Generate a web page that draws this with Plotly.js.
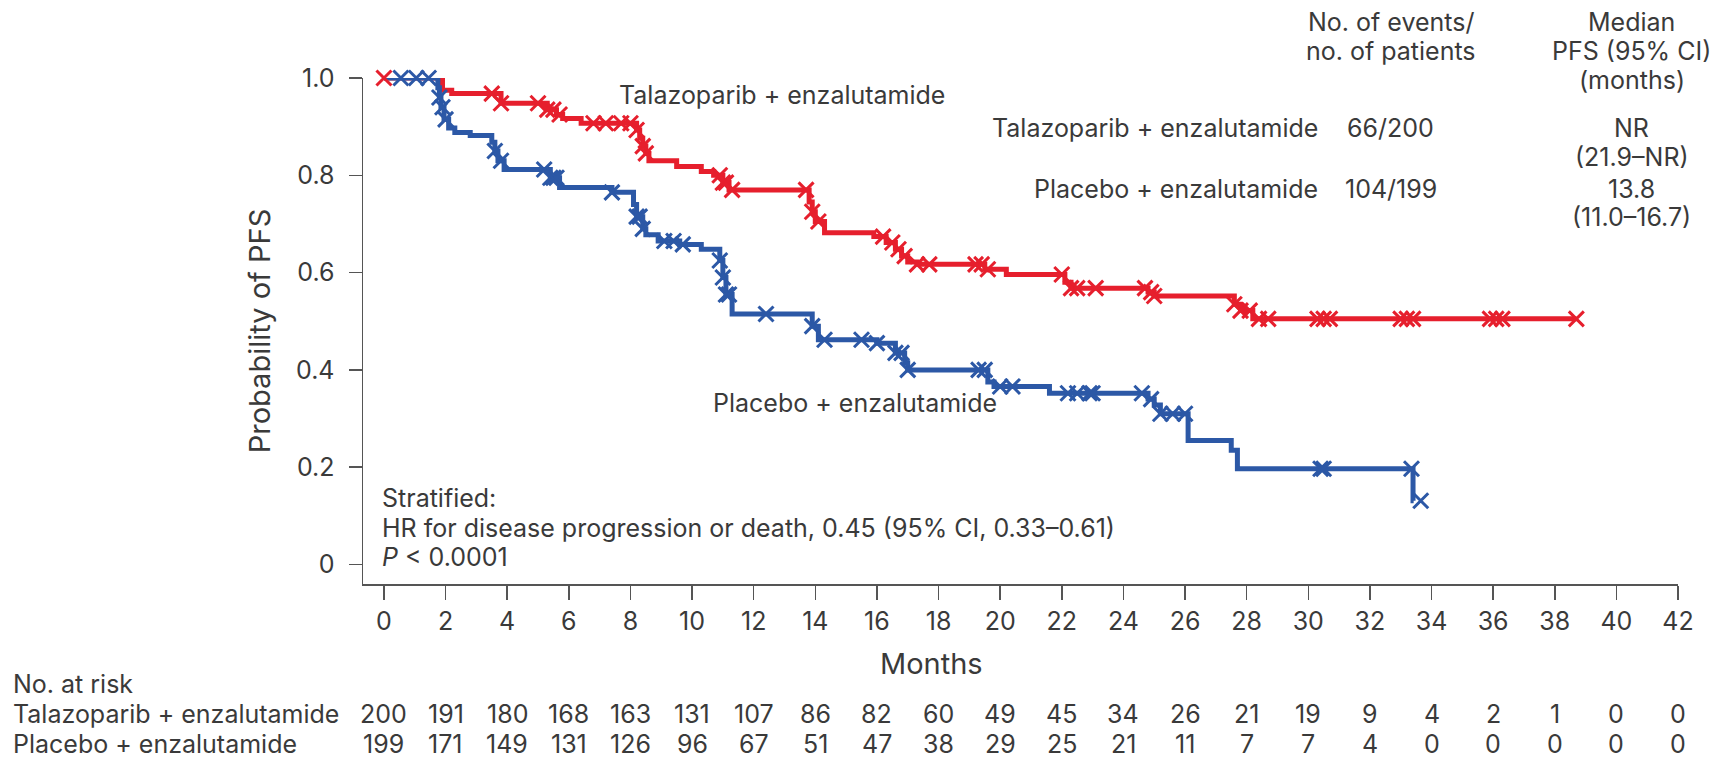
<!DOCTYPE html>
<html>
<head>
<meta charset="utf-8">
<script src="https://cdn.plot.ly/plotly-3.0.1.min.js"></script>
<style>
  html, body { margin: 0; padding: 0; background: #fff; }
  #chart { width: 1717px; height: 777px; }
</style>
</head>
<body>
<div id="chart"></div>
<script>
// ---------- Data ----------
// Talazoparib + enzalutamide: Kaplan–Meier step points (months, probability)
const talaTimes = [0, 1.9, 2.2, 3.8, 5.3, 5.6, 5.8, 6.4, 8.2, 8.3, 8.4, 8.5, 8.6, 9.5, 10.3, 10.7, 11.0, 11.2,
  13.8, 13.9, 14.0, 14.3, 15.9, 16.3, 16.6, 16.8, 17.0, 17.3, 19.5, 20.2, 22.1, 22.3, 24.8, 25.0, 27.6, 27.8, 28.2];
const talaSurv = [1.0, 0.975, 0.968, 0.948, 0.935, 0.925, 0.917, 0.907, 0.893, 0.876, 0.860, 0.845, 0.830, 0.818, 0.808, 0.800, 0.785, 0.770,
  0.745, 0.725, 0.705, 0.682, 0.674, 0.662, 0.648, 0.634, 0.622, 0.617, 0.607, 0.596, 0.580, 0.568, 0.560, 0.552, 0.535, 0.522, 0.505];
const talaEnd = 38.7;
const talaCensored = [0, 3.5, 3.8, 5.0, 5.3, 5.5, 5.7, 6.8, 7.2, 7.7, 8.0, 8.2, 8.4, 8.5, 10.9, 11.0, 11.1, 11.3,
  13.7, 13.9, 14.1, 16.2, 16.5, 16.7, 16.9, 17.3, 17.7, 19.2, 19.4, 19.6, 22.0, 22.3, 22.5, 23.1, 24.7, 24.9, 25.0,
  27.6, 27.8, 28.1, 28.4, 28.7, 30.3, 30.5, 30.7, 33.0, 33.2, 33.4, 35.9, 36.1, 36.3, 38.7];

// Placebo + enzalutamide
const placTimes = [0, 1.75, 1.8, 1.85, 1.95, 2.1, 2.3, 2.8, 3.5, 3.6, 3.7, 3.9, 5.4, 5.7, 7.4, 8.1, 8.2, 8.4, 8.5, 8.9, 9.6,
  10.3, 10.9, 11.0, 11.1, 11.3, 13.9, 14.1, 16.0, 16.6, 16.9, 17.0, 19.6, 19.8, 21.6, 24.8, 25.0, 25.2, 26.1, 27.5, 27.7, 33.4];
const placSurv = [1.0, 0.98, 0.96, 0.94, 0.915, 0.897, 0.888, 0.882, 0.868, 0.850, 0.830, 0.812, 0.795, 0.775, 0.765, 0.740, 0.715, 0.690, 0.678, 0.665, 0.658,
  0.648, 0.625, 0.590, 0.555, 0.515, 0.490, 0.462, 0.455, 0.435, 0.415, 0.400, 0.375, 0.366, 0.352, 0.340, 0.328, 0.310, 0.255, 0.235, 0.197, 0.131];
const placEnd = 33.42;
const placCensored = [0.55, 1.05, 1.45, 1.8, 1.9, 2.0, 3.6, 3.8, 5.2, 5.4, 5.5, 5.6, 7.4, 8.2, 8.3, 8.4, 9.1, 9.4, 9.7,
  10.9, 11.0, 11.1, 11.2, 12.4, 13.9, 14.3, 15.5, 16.0, 16.6, 16.8, 17.0, 19.3, 19.5, 20.0, 20.4, 22.2, 22.5, 22.9, 23.0,
  24.6, 24.9, 25.2, 25.6, 26.0, 30.4, 30.5, 33.35, 33.65];

// Number at risk
const riskMonths = [0, 2, 4, 6, 8, 10, 12, 14, 16, 18, 20, 22, 24, 26, 28, 30, 32, 34, 36, 38, 40, 42];
const riskTala = [200, 191, 180, 168, 163, 131, 107, 86, 82, 60, 49, 45, 34, 26, 21, 19, 9, 4, 2, 1, 0, 0];
const riskPlac = [199, 171, 149, 131, 126, 96, 67, 51, 47, 38, 29, 25, 21, 11, 7, 7, 4, 0, 0, 0, 0, 0];

const xTicks = riskMonths;
const yTicks = [0, 0.2, 0.4, 0.6, 0.8, 1.0];
const yTickText = ['0', '0.2', '0.4', '0.6', '0.8', '1.0'];

const armNames = ['Talazoparib + enzalutamide', 'Placebo + enzalutamide'];
const events = ['66/200', '104/199'];
const medians = ['NR', '13.8'];
const medianCI = ['(21.9–NR)', '(11.0–16.7)'];

// ---------- Styling ----------
const RED = '#e61f2d';
const BLUE = '#2c58a6';
const TXT = '#3a3a3a';
const AXC = '#555555';
const FONT = 'Inter, Roboto, "Liberation Sans", sans-serif';
const FS = 25;

function stepValue(times, surv, t) {
  let v = surv[0];
  for (let i = 0; i < times.length; i++) { if (times[i] <= t) v = surv[i]; }
  return v;
}
function withEnd(times, surv, end) {
  return { x: times.concat([end]), y: surv.concat([surv[surv.length - 1]]) };
}

const talaLine = withEnd(talaTimes, talaSurv, talaEnd);
const placLine = withEnd(placTimes, placSurv, placEnd);

const traces = [
  { x: talaLine.x, y: talaLine.y, type: 'scatter', mode: 'lines', line: { shape: 'hv', color: RED, width: 5 },
    cliponaxis: false, hoverinfo: 'skip', showlegend: false },
  { x: placLine.x, y: placLine.y, type: 'scatter', mode: 'lines', line: { shape: 'hv', color: BLUE, width: 5 },
    cliponaxis: false, hoverinfo: 'skip', showlegend: false },
  { x: placCensored, y: placCensored.map(t => stepValue(placTimes, placSurv, t)), type: 'scatter', mode: 'markers',
    marker: { symbol: 'x-thin', size: 15, line: { width: 3, color: BLUE } }, cliponaxis: false, hoverinfo: 'skip', showlegend: false },
  { x: talaCensored, y: talaCensored.map(t => stepValue(talaTimes, talaSurv, t)), type: 'scatter', mode: 'markers',
    marker: { symbol: 'x-thin', size: 15, line: { width: 3, color: RED } }, cliponaxis: false, hoverinfo: 'skip', showlegend: false }
];

const annotations = [];
function ann(o) {
  annotations.push(Object.assign({ showarrow: false, font: { family: FONT, size: FS, color: TXT } }, o));
}

// In-plot labels
ann({ text: armNames[0], xref: 'x', yref: 'y', x: 7.55, y: 0.966, xanchor: 'left', yanchor: 'middle' });
ann({ text: armNames[1], xref: 'x', yref: 'y', x: 10.6, y: 0.331, xanchor: 'left', yanchor: 'middle' });
ann({ text: 'Stratified:', xref: 'x', yref: 'y', x: -0.13, y: 0.136, xanchor: 'left', yanchor: 'middle' });
ann({ text: 'HR for disease progression or death, 0.45 (95% CI, 0.33–0.61)', xref: 'x', yref: 'y', x: -0.13, y: 0.0745, xanchor: 'left', yanchor: 'middle' });
ann({ text: '<i>P</i> < 0.0001', xref: 'x', yref: 'y', x: -0.13, y: 0.016, xanchor: 'left', yanchor: 'middle' });

// Top-right table
const colEv = 0.7817, colMed = 0.9647, colName = 0.7274;
ann({ text: 'No. of events/', xref: 'paper', yref: 'paper', x: colEv, y: 1.110, xanchor: 'center', yanchor: 'middle' });
ann({ text: 'no. of patients', xref: 'paper', yref: 'paper', x: colEv, y: 1.054, xanchor: 'center', yanchor: 'middle' });
ann({ text: 'Median', xref: 'paper', yref: 'paper', x: colMed, y: 1.110, xanchor: 'center', yanchor: 'middle' });
ann({ text: 'PFS (95% CI)', xref: 'paper', yref: 'paper', x: colMed, y: 1.054, xanchor: 'center', yanchor: 'middle' });
ann({ text: '(months)', xref: 'paper', yref: 'paper', x: colMed, y: 0.9955, xanchor: 'center', yanchor: 'middle' });
const rowY = [0.9004, 0.7812];
const ciY = [0.8439, 0.7251];
for (let i = 0; i < 2; i++) {
  ann({ text: armNames[i], xref: 'paper', yref: 'paper', x: colName, y: rowY[i], xanchor: 'right', yanchor: 'middle' });
  ann({ text: events[i], xref: 'paper', yref: 'paper', x: colEv, y: rowY[i], xanchor: 'center', yanchor: 'middle' });
  ann({ text: medians[i], xref: 'paper', yref: 'paper', x: colMed, y: rowY[i], xanchor: 'center', yanchor: 'middle' });
  ann({ text: medianCI[i], xref: 'paper', yref: 'paper', x: colMed, y: ciY[i], xanchor: 'center', yanchor: 'middle' });
}

// X axis title and number at risk table
ann({ text: 'Months', xref: 'paper', yref: 'paper', x: 0.432, y: -0.158, xanchor: 'center', yanchor: 'middle',
  font: { family: FONT, size: 29, color: TXT } });
ann({ text: 'No. at risk', xref: 'paper', yref: 'paper', x: -0.2677, y: -0.197, xanchor: 'left', yanchor: 'middle' });
ann({ text: armNames[0], xref: 'paper', yref: 'paper', x: -0.2677, y: -0.2578, xanchor: 'left', yanchor: 'middle' });
ann({ text: armNames[1], xref: 'paper', yref: 'paper', x: -0.2677, y: -0.316, xanchor: 'left', yanchor: 'middle' });
riskMonths.forEach((m, i) => {
  ann({ text: String(riskTala[i]), xref: 'x', yref: 'paper', x: m, y: -0.2578, xanchor: 'center', yanchor: 'middle' });
  ann({ text: String(riskPlac[i]), xref: 'x', yref: 'paper', x: m, y: -0.316, xanchor: 'center', yanchor: 'middle' });
});

const layout = {
  width: 1717, height: 777,
  margin: { l: 363, r: 39, t: 78, b: 193, pad: 0 },
  paper_bgcolor: '#ffffff', plot_bgcolor: '#ffffff',
  font: { family: FONT, size: FS, color: TXT },
  showlegend: false,
  xaxis: {
    range: [-0.68, 42], showgrid: false, zeroline: false,
    showline: true, linecolor: AXC, linewidth: 1.5,
    ticks: 'outside', ticklen: 14, tickwidth: 1.5, tickcolor: AXC,
    tickmode: 'array', tickvals: xTicks, ticktext: xTicks.map(String),
    tickfont: { family: FONT, size: FS, color: TXT }
  },
  yaxis: {
    range: [-0.04, 1.0], showgrid: false, zeroline: false,
    showline: true, linecolor: AXC, linewidth: 1.5,
    ticks: 'outside', ticklen: 13, tickwidth: 1.5, tickcolor: AXC,
    tickmode: 'array', tickvals: yTicks, ticktext: yTickText,
    ticklabelstandoff: 9,
    tickfont: { family: FONT, size: FS, color: TXT },
    title: { text: 'Probability of PFS', standoff: 17, font: { family: FONT, size: 29, color: TXT } }
  },
  annotations: annotations
};

Plotly.newPlot('chart', traces, layout, { staticPlot: true, displayModeBar: false });
</script>
</body>
</html>
